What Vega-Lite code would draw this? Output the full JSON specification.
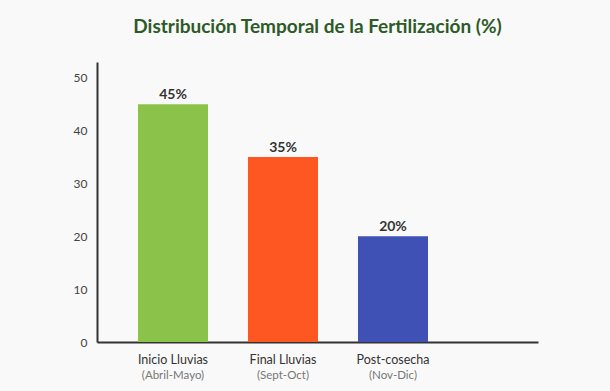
{
  "$schema": "https://vega.github.io/schema/vega-lite/v6.json",
  "width": 441,
  "height": 280,
  "autosize": "none",
  "padding": {"left": 97, "top": 62, "right": 72, "bottom": 49},
  "background": "#f9f9f9",
  "config": {"view": {"stroke": null}, "font": "Lato"},
  "title": {
    "text": "Distribución Temporal de la Fertilización (%)",
    "fontSize": 19,
    "fontWeight": "bold",
    "color": "#2d5a27",
    "anchor": "middle",
    "baseline": "bottom",
    "offset": 6,
    "font": "Lato"
  },
  "data": {
    "values": [
      {"etapa": "Inicio Lluvias", "periodo": "(Abril-Mayo)", "porcentaje": 45},
      {"etapa": "Final Lluvias", "periodo": "(Sept-Oct)", "porcentaje": 35},
      {"etapa": "Post-cosecha", "periodo": "(Nov-Dic)", "porcentaje": 20}
    ]
  },
  "encoding": {
    "x": {
      "field": "etapa",
      "type": "nominal",
      "sort": null,
      "scale": {"paddingInner": 0.3636, "paddingOuter": 0.6864, "align": 0.2715},
      "axis": {"labels": false, "ticks": false, "title": null, "domainColor": "#333333", "domainWidth": 2}
    }
  },
  "layer": [
    {
      "mark": {"type": "bar"},
      "encoding": {
        "y": {
          "field": "porcentaje",
          "type": "quantitative",
          "scale": {"domain": [0, 53], "nice": false},
          "axis": {
            "values": [0, 10, 20, 30, 40, 50],
            "title": null,
            "grid": false,
            "ticks": false,
            "labelPadding": 10,
            "labelFontSize": 12,
            "labelColor": "#444444",
            "domainColor": "#333333",
            "domainWidth": 2
          }
        },
        "color": {
          "field": "etapa",
          "type": "nominal",
          "scale": {
            "domain": ["Inicio Lluvias", "Final Lluvias", "Post-cosecha"],
            "range": ["#8bc34a", "#ff5722", "#3f51b5"]
          },
          "legend": null
        }
      }
    },
    {
      "mark": {
        "type": "text",
        "baseline": "alphabetic",
        "dy": -5,
        "fontSize": 14,
        "fontWeight": "bold",
        "color": "#333333",
        "text": {"expr": "datum.porcentaje + '%'"}
      },
      "encoding": {
        "y": {"field": "porcentaje", "type": "quantitative"}
      }
    },
    {
      "mark": {"type": "text", "baseline": "alphabetic", "dy": 22, "fontSize": 12.5, "color": "#333333"},
      "encoding": {
        "y": {"datum": 0, "type": "quantitative"},
        "text": {"field": "etapa"}
      }
    },
    {
      "mark": {"type": "text", "baseline": "alphabetic", "dy": 37, "fontSize": 11.5, "color": "#777777"},
      "encoding": {
        "y": {"datum": 0, "type": "quantitative"},
        "text": {"field": "periodo"}
      }
    }
  ]
}
